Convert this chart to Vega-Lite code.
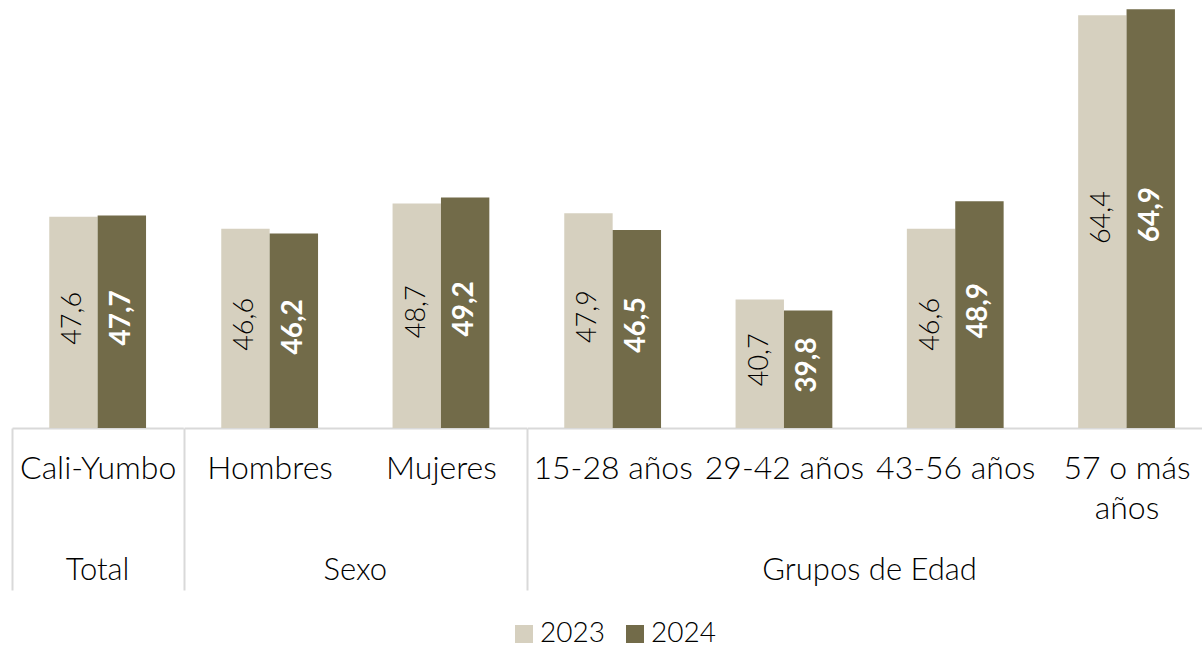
{
  "$schema": "https://vega.github.io/schema/vega-lite/v6.json",
  "padding": {"left": 11, "top": 8, "right": 0, "bottom": 0},
  "bounds": "flush",
  "spacing": 0,
  "config": {
    "font": "Lato",
    "view": {"stroke": null},
    "locale": {"number": {"decimal": ",", "thousands": ".", "grouping": [3], "currency": ["$", ""]}}
  },
  "data": {"values": [
    {"group": "Total", "cat": "Cali-Yumbo", "year": "2023", "value": 47.6},
    {"group": "Total", "cat": "Cali-Yumbo", "year": "2024", "value": 47.7},
    {"group": "Sexo", "cat": "Hombres", "year": "2023", "value": 46.6},
    {"group": "Sexo", "cat": "Hombres", "year": "2024", "value": 46.2},
    {"group": "Sexo", "cat": "Mujeres", "year": "2023", "value": 48.7},
    {"group": "Sexo", "cat": "Mujeres", "year": "2024", "value": 49.2},
    {"group": "Grupos de Edad", "cat": "15-28 años", "year": "2023", "value": 47.9},
    {"group": "Grupos de Edad", "cat": "15-28 años", "year": "2024", "value": 46.5},
    {"group": "Grupos de Edad", "cat": "29-42 años", "year": "2023", "value": 40.7},
    {"group": "Grupos de Edad", "cat": "29-42 años", "year": "2024", "value": 39.8},
    {"group": "Grupos de Edad", "cat": "43-56 años", "year": "2023", "value": 46.6},
    {"group": "Grupos de Edad", "cat": "43-56 años", "year": "2024", "value": 48.9},
    {"group": "Grupos de Edad", "cat": "57 o más años", "year": "2023", "value": 64.4},
    {"group": "Grupos de Edad", "cat": "57 o más años", "year": "2024", "value": 64.9}
  ]},
  "facet": {
    "column": {
      "field": "group", "type": "nominal",
      "sort": ["Total", "Sexo", "Grupos de Edad"],
      "header": {"title": null, "labelOrient": "bottom", "labelFontSize": 31, "labelFont": "Lato", "labelFontWeight": 300, "labelColor": "#000000", "labelPadding": 128, "labelBaseline": "top"}
    }
  },
  "resolve": {"scale": {"x": "independent", "xOffset": "independent"}},
  "spec": {
    "width": {"step": 171.3, "for": "position"},
    "height": 420,
    "encoding": {
      "x": {
        "field": "cat", "type": "nominal", "sort": null,
        "scale": {"paddingInner": 0, "paddingOuter": 0},
        "axis": {
          "title": null, "orient": "bottom",
          "domainColor": "#d9d9d9", "domainWidth": 2,
          "tickBand": "extent", "tickColor": "#d9d9d9", "tickWidth": 2, "tickSize": 162,
          "tickOpacity": {"condition": {"test": "datum.index < 0", "value": 1}, "value": 0},
          "labelFontSize": 32, "labelFontWeight": 300, "labelColor": "#000000", "labelPadding": -137,
          "labelBaseline": "top", "labelAngle": 0, "labelLineHeight": 40, "labelLimit": 0,
          "labelExpr": "datum.value == '57 o más años' ? ['57 o más', 'años'] : datum.value"
        }
      },
      "xOffset": {"field": "year", "type": "nominal", "scale": {"domain": ["2023", "2024"], "paddingInner": 0, "paddingOuter": 0.77}}
    },
    "layer": [
      {
        "mark": {"type": "bar", "clip": true},
        "encoding": {
          "y": {"field": "value", "type": "quantitative", "scale": {"domain": [30, 65], "zero": false, "nice": false}, "axis": null},
          "color": {
            "field": "year", "type": "nominal",
            "scale": {"domain": ["2023", "2024"], "range": ["#d6d0bf", "#726b49"]},
            "legend": {
              "title": null, "orient": "none", "direction": "horizontal", "legendX": 498, "legendY": 612,
              "symbolType": "square", "symbolSize": 324, "symbolStrokeWidth": 0, "symbolOpacity": 1,
              "labelFontSize": 28, "labelFontWeight": 300, "labelColor": "#000000", "labelOffset": 2, "columnPadding": 16
            }
          }
        }
      },
      {
        "transform": [{"filter": "datum.year == '2023'"}],
        "mark": {"type": "text", "angle": 270, "align": "center", "baseline": "middle", "fontSize": 27, "fontWeight": 300, "color": "#000000", "dx": 4},
        "encoding": {
          "y": {"field": "value", "type": "quantitative", "scale": {"domain": [30, 100], "zero": false, "nice": false}, "axis": null},
          "text": {"field": "value", "type": "quantitative", "format": ".1f"}
        }
      },
      {
        "transform": [{"filter": "datum.year == '2024'"}],
        "mark": {"type": "text", "angle": 270, "align": "center", "baseline": "middle", "fontSize": 28, "fontWeight": "bold", "color": "#ffffff", "dx": 4},
        "encoding": {
          "y": {"field": "value", "type": "quantitative", "scale": {"domain": [30, 100], "zero": false, "nice": false}, "axis": null},
          "text": {"field": "value", "type": "quantitative", "format": ".1f"}
        }
      }
    ],
    "resolve": {"scale": {"y": "independent"}}
  }
}
